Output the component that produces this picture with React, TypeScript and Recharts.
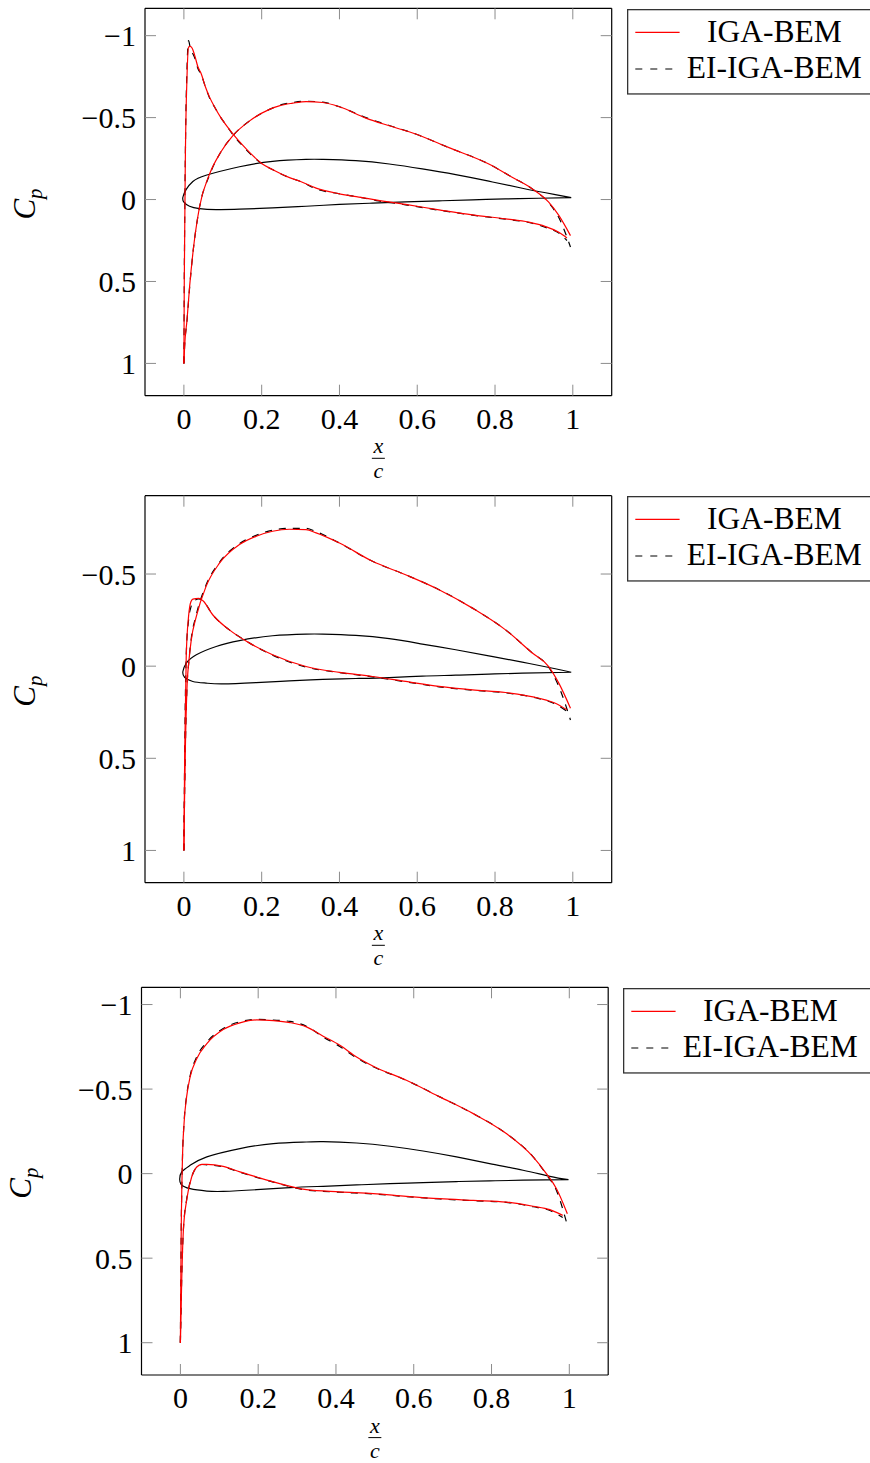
import React from "react";
import { LineChart, Line, XAxis, YAxis, Legend, Label } from "recharts";

const X_TICKS = [0, 0.2, 0.4, 0.6, 0.8, 1];
const CP_TICKS_FULL = [-1, -0.5, 0, 0.5, 1];
const CP_TICKS_SHORT = [-0.5, 0, 0.5, 1];
const SERIES_NAMES = ["IGA-BEM", "EI-IGA-BEM"];

// panel 1: side with the leading edge spike
const P1_A_X = [0, 0.001, 0.004, 0.008, 0.012, 0.016, 0.021, 0.027, 0.036, 0.045, 0.055, 0.066, 0.08, 0.095, 0.11, 0.128, 0.15, 0.17, 0.2, 0.23, 0.27, 0.3, 0.34, 0.4, 0.45, 0.5, 0.57, 0.656, 0.742, 0.827, 0.887, 0.93, 0.964, 0.985];
const P1_A_IGA = [1.0, 0.5, -0.3, -0.75, -0.93, -0.935, -0.925, -0.886, -0.81, -0.765, -0.69, -0.625, -0.56, -0.5, -0.45, -0.395, -0.335, -0.285, -0.22, -0.18, -0.135, -0.11, -0.07, -0.035, -0.015, 0.005, 0.03, 0.063, 0.094, 0.118, 0.138, 0.165, 0.2, 0.235];
const P1_A_EI = [1.0, 0.5, -0.32, -0.8, -0.97, -0.93, -0.9, -0.87, -0.8, -0.76, -0.69, -0.62, -0.56, -0.5, -0.45, -0.39, -0.33, -0.28, -0.22, -0.18, -0.135, -0.11, -0.065, -0.035, -0.015, 0.008, 0.032, 0.065, 0.095, 0.12, 0.14, 0.17, 0.205, 0.25];
// panel 1: side with the hump
const P1_B_X = [0, 0.0018, 0.008, 0.0146, 0.023, 0.04, 0.066, 0.095, 0.126, 0.169, 0.22, 0.245, 0.28, 0.314, 0.357, 0.4, 0.468, 0.528, 0.596, 0.68, 0.784, 0.844, 0.896, 0.938, 0.964, 0.994];
const P1_B_IGA = [1.0, 0.9, 0.736, 0.533, 0.33, 0.047, -0.156, -0.29, -0.39, -0.48, -0.55, -0.572, -0.588, -0.598, -0.592, -0.566, -0.497, -0.45, -0.4, -0.318, -0.217, -0.136, -0.065, 0.016, 0.097, 0.22];
const P1_B_EI = [1.0, 0.9, 0.74, 0.54, 0.33, 0.05, -0.15, -0.29, -0.39, -0.48, -0.55, -0.575, -0.592, -0.6, -0.594, -0.566, -0.5, -0.452, -0.4, -0.318, -0.217, -0.136, -0.065, 0.02, 0.11, 0.29];
// panel 1: profile outline
const P1_FOIL_X = [0.996, 0.955, 0.87, 0.784, 0.699, 0.613, 0.528, 0.442, 0.357, 0.314, 0.228, 0.143, 0.057, 0.023, 0.006, -0.0026, 0.0, 0.0145, 0.04, 0.083, 0.143, 0.228, 0.314, 0.4, 0.485, 0.57, 0.656, 0.742, 0.827, 0.913, 0.996];
const P1_FOIL_Y = [-0.012, -0.03, -0.069, -0.112, -0.152, -0.187, -0.217, -0.237, -0.245, -0.245, -0.233, -0.2, -0.148, -0.11, -0.062, -0.014, 0.016, 0.041, 0.055, 0.061, 0.059, 0.051, 0.041, 0.03, 0.022, 0.014, 0.008, 0.002, -0.004, -0.008, -0.012];

// panel 2
const P2_A_X = [0, 0.002, 0.006, 0.012, 0.018, 0.023, 0.038, 0.049, 0.074, 0.117, 0.169, 0.228, 0.314, 0.4, 0.485, 0.57, 0.656, 0.742, 0.827, 0.913, 0.955, 0.985];
const P2_A_IGA = [1.0, 0.49, -0.053, -0.27, -0.35, -0.364, -0.368, -0.355, -0.279, -0.197, -0.125, -0.062, 0.002, 0.034, 0.056, 0.083, 0.11, 0.129, 0.143, 0.174, 0.201, 0.237];
const P2_A_EI = [1.0, 0.49, -0.06, -0.25, -0.32, -0.345, -0.365, -0.355, -0.279, -0.197, -0.125, -0.06, 0.005, 0.035, 0.058, 0.085, 0.112, 0.13, 0.145, 0.176, 0.205, 0.245];
const P2_B_X = [0, 0.0015, 0.0034, 0.0077, 0.013, 0.019, 0.032, 0.057, 0.092, 0.143, 0.186, 0.228, 0.271, 0.314, 0.34, 0.4, 0.485, 0.57, 0.656, 0.742, 0.827, 0.896, 0.938, 0.964, 0.994];
const P2_B_IGA = [1.0, 0.75, 0.49, 0.13, -0.03, -0.143, -0.27, -0.433, -0.56, -0.66, -0.705, -0.732, -0.743, -0.741, -0.723, -0.668, -0.569, -0.496, -0.415, -0.315, -0.197, -0.071, 0.002, 0.092, 0.228];
const P2_B_EI = [1.0, 0.75, 0.49, 0.13, -0.03, -0.15, -0.28, -0.44, -0.565, -0.665, -0.71, -0.738, -0.748, -0.748, -0.73, -0.668, -0.569, -0.496, -0.415, -0.315, -0.197, -0.071, 0.005, 0.11, 0.292];
const P2_FOIL_X = [0.996, 0.955, 0.87, 0.784, 0.699, 0.613, 0.528, 0.442, 0.357, 0.314, 0.228, 0.143, 0.083, 0.032, 0.006, -0.0026, 0.0017, 0.023, 0.057, 0.1, 0.186, 0.271, 0.357, 0.442, 0.528, 0.613, 0.699, 0.784, 0.87, 0.996];
const P2_FOIL_Y = [0.033, 0.014, -0.022, -0.056, -0.089, -0.12, -0.149, -0.167, -0.174, -0.174, -0.165, -0.139, -0.107, -0.062, -0.016, 0.029, 0.06, 0.083, 0.092, 0.096, 0.089, 0.08, 0.072, 0.067, 0.062, 0.054, 0.049, 0.043, 0.038, 0.033];

// panel 3
const P3_A_X = [0, 0.0034, 0.0077, 0.016, 0.029, 0.042, 0.055, 0.068, 0.11, 0.153, 0.196, 0.239, 0.324, 0.41, 0.496, 0.581, 0.667, 0.753, 0.838, 0.907, 0.95, 0.983];
const P3_A_IGA = [1.0, 0.631, 0.335, 0.158, 0.02, -0.039, -0.055, -0.055, -0.043, -0.01, 0.02, 0.049, 0.095, 0.108, 0.118, 0.134, 0.148, 0.158, 0.168, 0.193, 0.213, 0.247];
const P3_A_EI = [1.0, 0.62, 0.33, 0.155, 0.02, -0.038, -0.054, -0.052, -0.04, -0.008, 0.022, 0.05, 0.097, 0.11, 0.12, 0.136, 0.15, 0.16, 0.17, 0.196, 0.218, 0.26];
const P3_B_X = [0, 0.0017, 0.005, 0.0094, 0.016, 0.025, 0.042, 0.068, 0.11, 0.153, 0.196, 0.239, 0.282, 0.324, 0.367, 0.41, 0.453, 0.496, 0.581, 0.667, 0.753, 0.838, 0.907, 0.941, 0.967, 0.995];
const P3_B_IGA = [1.0, 0.434, -0.059, -0.296, -0.454, -0.572, -0.68, -0.769, -0.852, -0.892, -0.909, -0.905, -0.893, -0.868, -0.813, -0.759, -0.69, -0.635, -0.552, -0.454, -0.355, -0.237, -0.099, 0.0, 0.089, 0.237];
const P3_B_EI = [1.0, 0.434, -0.06, -0.3, -0.46, -0.578, -0.69, -0.778, -0.858, -0.898, -0.912, -0.908, -0.9, -0.872, -0.808, -0.752, -0.685, -0.632, -0.552, -0.454, -0.355, -0.237, -0.099, 0.005, 0.1, 0.306];
const P3_FOIL_X = [0.998, 0.95, 0.881, 0.795, 0.71, 0.624, 0.539, 0.453, 0.367, 0.324, 0.239, 0.153, 0.068, 0.025, 0.0034, -0.0017, 0.0017, 0.025, 0.068, 0.11, 0.196, 0.282, 0.367, 0.453, 0.539, 0.624, 0.71, 0.795, 0.881, 0.998];
const P3_FOIL_Y = [0.036, 0.016, -0.02, -0.059, -0.099, -0.134, -0.162, -0.181, -0.189, -0.187, -0.178, -0.148, -0.099, -0.049, -0.01, 0.03, 0.063, 0.089, 0.103, 0.105, 0.095, 0.083, 0.075, 0.067, 0.059, 0.053, 0.047, 0.043, 0.039, 0.036];

type Pt = { x: number; cp: number };
const zip = (xs: number[], ys: number[]): Pt[] => xs.map((x, i) => ({ x, cp: ys[i] }));

const SERIF = "Liberation Serif";
const CHART_W = 870;
const CHART_H = 490;
const PLOT_W = 466.7;
const X_AXIS_H = 90;
const TICK = 11;
const DASH = "7 7";
const X_DOMAIN: [number, number] = [-0.1, 1.1];

interface Panel {
  top: number;
  left: number;
  plotTop: number;
  plotH: number;
  yDomain: [number, number];
  yTicks: number[];
  sideA: [Pt[], Pt[]];
  sideB: [Pt[], Pt[]];
  foil: Pt[];
}

const PANELS: Panel[] = [
  {
    top: 0, left: 145, plotTop: 8.3, plotH: 387.4,
    yDomain: [-1.167, 1.197], yTicks: CP_TICKS_FULL,
    sideA: [zip(P1_A_X, P1_A_IGA), zip(P1_A_X, P1_A_EI)],
    sideB: [zip(P1_B_X, P1_B_IGA), zip(P1_B_X, P1_B_EI)],
    foil: zip(P1_FOIL_X, P1_FOIL_Y),
  },
  {
    top: 490, left: 145, plotTop: 5.7, plotH: 387,
    yDomain: [-0.925, 1.175], yTicks: CP_TICKS_SHORT,
    sideA: [zip(P2_A_X, P2_A_IGA), zip(P2_A_X, P2_A_EI)],
    sideB: [zip(P2_B_X, P2_B_IGA), zip(P2_B_X, P2_B_EI)],
    foil: zip(P2_FOIL_X, P2_FOIL_Y),
  },
  {
    top: 980, left: 141.5, plotTop: 7.3, plotH: 387.7,
    yDomain: [-1.102, 1.191], yTicks: CP_TICKS_FULL,
    sideA: [zip(P3_A_X, P3_A_IGA), zip(P3_A_X, P3_A_EI)],
    sideB: [zip(P3_B_X, P3_B_IGA), zip(P3_B_X, P3_B_EI)],
    foil: zip(P3_FOIL_X, P3_FOIL_Y),
  },
];

const fmt = (v: number) => (v < 0 ? `\u2212${Math.abs(v)}` : `${v}`);
const blank = () => "";

const tickLine = { stroke: "#8c8c8c", strokeWidth: 1 };
const frame = { stroke: "#000", strokeWidth: 1.2 };

// tick labels drawn by hand so the serif face is used
const BottomTick = (props: any) => (
  <text x={props.x} y={props.y} dy="0.71em" textAnchor="middle" fontFamily={SERIF} fontSize={30} fill="#000">
    {fmt(props.payload.value)}
  </text>
);

const LeftTick = (props: any) => (
  <text x={props.x} y={props.y} dy="0.355em" textAnchor="end" fontFamily={SERIF} fontSize={30} fill="#000">
    {fmt(props.payload.value)}
  </text>
);

const XLabel = (props: any) => {
  const { x, y, width } = props.viewBox;
  const cx = x + width / 2;
  return (
    <g fontFamily={SERIF} fontStyle="italic" fontSize={22} fill="#000">
      <text x={cx} y={y + 57.6} textAnchor="middle">x</text>
      <line x1={cx - 6.5} x2={cx + 6.5} y1={y + 62.6} y2={y + 62.6} stroke="#000" strokeWidth={1} />
      <text x={cx} y={y + 82.6} textAnchor="middle">c</text>
    </g>
  );
};

const YLabel = (props: any) => {
  const { x, y, width, height } = props.viewBox;
  const bx = x + width - 110;
  const cy = y + height / 2 + 2;
  return (
    <text
      x={bx}
      y={cy}
      transform={`rotate(-90 ${bx} ${cy})`}
      textAnchor="middle"
      fontFamily={SERIF}
      fontStyle="italic"
      fontSize={31}
      fill="#000"
    >
      C<tspan fontSize={21} dy={7}>p</tspan>
    </text>
  );
};

const LegendBox = () => (
  <svg width={270} height={88} style={{ display: "block" }}>
    <rect x={0.65} y={0.65} width={300} height={84.3} fill="#fff" stroke="#333" strokeWidth={1.3} />
    <line x1={8.3} x2={52.6} y1={23.3} y2={23.3} stroke="#ff0000" strokeWidth={1.2} />
    <text x={147.3} y={32.7} textAnchor="middle" fontFamily={SERIF} fontSize={31.5} fill="#000">
      {SERIES_NAMES[0]}
    </text>
    <line x1={8.3} x2={52.6} y1={60} y2={60} stroke="#000" strokeWidth={1.2} strokeDasharray="7 8" />
    <text x={147.3} y={69.3} textAnchor="middle" fontFamily={SERIF} fontSize={31.5} fill="#000">
      {SERIES_NAMES[1]}
    </text>
  </svg>
);

function CpPanel({ p }: { p: Panel }) {
  const margin = {
    top: p.plotTop - 1,
    left: 0,
    right: CHART_W - p.left - PLOT_W - 1,
    bottom: CHART_H - p.plotTop - p.plotH - X_AXIS_H,
  };
  const cpLine = (data: Pt[], key: string, dashed: boolean) => (
    <Line
      key={key}
      xAxisId="b"
      yAxisId="l"
      data={data}
      dataKey="cp"
      type="monotone"
      stroke={dashed ? "#000" : "#ff0000"}
      strokeWidth={1.2}
      strokeDasharray={dashed ? DASH : undefined}
      dot={false}
      activeDot={false}
      isAnimationActive={false}
    />
  );
  return (
    <div style={{ position: "absolute", left: 0, top: p.top }}>
      <LineChart width={CHART_W} height={CHART_H} margin={margin}>
        <XAxis
          xAxisId="b"
          type="number"
          dataKey="x"
          domain={X_DOMAIN}
          ticks={X_TICKS}
          interval={0}
          allowDataOverflow
          height={X_AXIS_H}
          tickSize={-TICK}
          tickMargin={23}
          tick={BottomTick}
          tickLine={tickLine}
          axisLine={frame}
        >
          <Label content={XLabel} />
        </XAxis>
        <XAxis
          xAxisId="t"
          orientation="top"
          type="number"
          dataKey="x"
          domain={X_DOMAIN}
          ticks={X_TICKS}
          interval={0}
          allowDataOverflow
          height={1}
          tickFormatter={blank}
          tickSize={-TICK}
          tickLine={tickLine}
          axisLine={frame}
        />
        <YAxis
          yAxisId="l"
          type="number"
          dataKey="cp"
          domain={p.yDomain}
          reversed
          ticks={p.yTicks}
          interval={0}
          allowDataOverflow
          width={p.left}
          tickSize={-TICK}
          tickMargin={20}
          tick={LeftTick}
          tickLine={tickLine}
          axisLine={frame}
        >
          <Label content={YLabel} />
        </YAxis>
        <YAxis
          yAxisId="r"
          orientation="right"
          type="number"
          dataKey="cp"
          domain={p.yDomain}
          reversed
          ticks={p.yTicks}
          interval={0}
          allowDataOverflow
          width={1}
          tickFormatter={blank}
          tickSize={-TICK}
          tickLine={tickLine}
          axisLine={frame}
        />
        <Line
          xAxisId="b"
          yAxisId="l"
          data={p.foil}
          dataKey="cp"
          type="natural"
          stroke="#000"
          strokeWidth={1.2}
          dot={false}
          activeDot={false}
          isAnimationActive={false}
        />
        {cpLine(p.sideA[1], "aEI", true)}
        {cpLine(p.sideB[1], "bEI", true)}
        {cpLine(p.sideA[0], "aIGA", false)}
        {cpLine(p.sideB[0], "bIGA", false)}
        <Legend
          verticalAlign="middle"
          align="center"
          content={LegendBox}
          wrapperStyle={{ left: p.left + 481.7, top: p.plotTop + 0.7, width: 270, height: 88 }}
        />
      </LineChart>
    </div>
  );
}

export default function App() {
  return (
    <div
      style={{
        position: "absolute",
        left: 0,
        top: 0,
        width: 870,
        height: 1463,
        overflow: "hidden",
        background: "#fff",
        fontFamily: SERIF,
      }}
    >
      {PANELS.map((p, i) => (
        <CpPanel key={i} p={p} />
      ))}
    </div>
  );
}
